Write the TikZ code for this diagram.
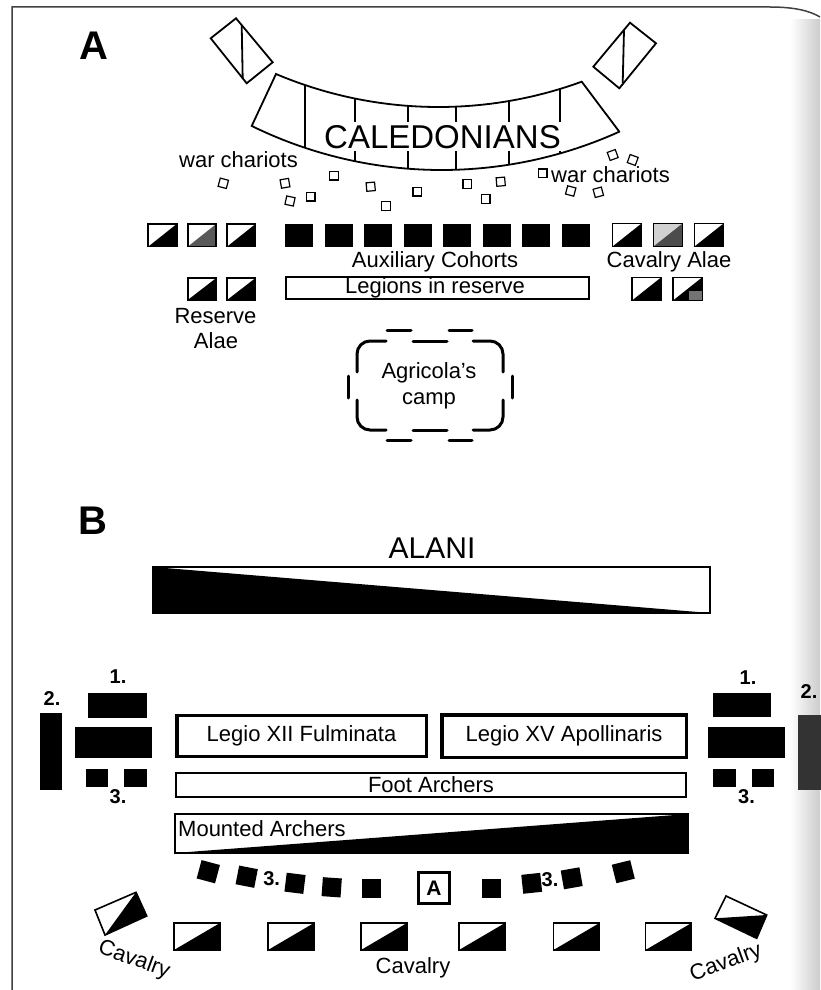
\documentclass[tikz,border=0pt]{standalone}
\usepackage{fontspec}
\setmainfont{Liberation Sans}
\newcommand{\alarect}[6]{%
  \fill[#6] (#1-#3/2,#2-#4/2) rectangle (#1+#3/2,#2+#4/2);
  \fill[#5] (#1-#3/2,#2+#4/2) -- (#1+#3/2,#2+#4/2) -- (#1+#3/2,#2-#4/2) -- cycle;
  \draw[unitline] (#1-#3/2,#2-#4/2) rectangle (#1+#3/2,#2+#4/2);}
\begin{document}
\begin{tikzpicture}[x=1pt,y=-1pt,
  unitline/.style={draw=black,line width=1.6pt},
  lbl/.style={font=\fontsize{22}{26}\selectfont,inner sep=0pt},
  num/.style={font=\bfseries\fontsize{20}{22}\selectfont,inner sep=0pt},
  big/.style={font=\bfseries\fontsize{40}{44}\selectfont,inner sep=0pt},
  chariot/.style={draw,line width=1.2pt,minimum size=8.5pt,inner sep=0pt},
  cohort/.style={fill=black,minimum width=28pt,minimum height=23pt,inner sep=0pt},
  legio/.style={draw,line width=3.5pt,inner sep=0pt,font=\fontsize{22}{26}\selectfont},
  smallsq/.style={fill=black,minimum size=19pt,inner sep=0pt},
  camp/.style={line width=3pt,line cap=round},
  band/.style={line width=1.8pt,line join=miter}]
\useasboundingbox (0,0) rectangle (820,990);
% page edge
\shade[left color=white,right color=black!20] (790,20) rectangle (820,990);
\draw[black!75,line width=1.5pt] (12,990) -- (12,7) -- (770,7) .. controls (795,7) and (810,11) .. (820,17);

% ================= PANEL A =================
\node[big] (labA) at (94,46) {A};

% standards at the top
\draw[band] (210.7,38.3) -- (236,18.3) -- (272.7,62.3) -- (246.7,83.3) -- cycle;
\draw[band] (241.7,25) -- (242.7,79);
\draw[band] (593.3,66.7) -- (630,22.7) -- (656,43.3) -- (619.3,88.3) -- cycle;
\draw[band] (624,30) -- (622.7,83.3);

% Caledonian band
\draw[band] plot[domain=276:581.7,samples=60] (\x,{-310.2+100*sqrt(17.4056-((\x-438.6)/100)^2)})
  -- (619.3,131.7)
  -- plot[domain=619.3:251.7,samples=60] (\x,{-261.5+100*sqrt(18.6192-((\x-441.6)/100)^2)})
  -- cycle;
\foreach \xx in {305,355,408,456,509,560}{
  \draw[band] (\xx,{-310.2+100*sqrt(17.4056-((\xx-438.6)/100)^2)}) -- (\xx,{-261.5+100*sqrt(18.6192-((\xx-441.6)/100)^2)});
}
\node[font=\fontsize{33}{36}\selectfont,fill=white,inner sep=2.5pt,anchor=base] (cal) at (442.5,148) {CALEDONIANS};

% war chariots
\node[lbl,anchor=base] (wcl) at (238.5,167) {war chariots};
\node[lbl,anchor=base] (wcr) at (610.5,182.7) {war chariots};
\foreach \cx/\cy/\ang [count=\i] in {223.3/183.3/-15, 285/183.3/10, 290/201/-12, 310.7/196.7/0,
   334/175.7/0, 370.7/186.7/5, 386/206/0, 417.3/191.7/0, 467.3/184/0, 485.7/199/0,
   500.7/181.7/5, 542.7/173.3/0, 612.7/155/20, 632.7/160/-20, 570.7/191/-15, 598.3/192.3/15}{
  \node[chariot,rotate=\ang] (ch\i) at (\cx,\cy) {};
}

% front line
\alarect{162.5}{235.3}{28.5}{22.7}{black}{white}
\alarect{202}{235.3}{28.5}{22.7}{black!65}{white}
\alarect{241.3}{235.3}{28.5}{22.7}{black}{white}
\foreach \cx [count=\i] in {299,338.5,378,417.5,457,496.5,536,575.5}{
  \node[cohort] (co\i) at (\cx,235.3) {};
}
\alarect{627}{235}{29}{23}{black}{white}
\alarect{668}{235}{29}{23}{black!70}{black!18}
\alarect{709}{235}{29}{23}{black}{white}
\node[lbl,anchor=base] (aux) at (435,267) {Auxiliary Cohorts};
\node[lbl,anchor=base] (cavA) at (669,267) {Cavalry Alae};

% second line
\alarect{202}{289}{28.5}{22}{black}{white}
\alarect{241.3}{289}{28.5}{22}{black}{white}
\node[draw,line width=1.6pt,minimum width=303pt,minimum height=22pt,inner sep=0pt] (legres) at (437.5,288) {};
\node[lbl,anchor=base] (legrestxt) at (435,293.5) {Legions in reserve};
\alarect{646.5}{289}{29}{23}{black}{white}
\alarect{687.5}{289}{29}{23}{black}{white}
\fill[black!55] (689,291) rectangle (701.5,300);
\node[lbl,anchor=base] (res1) at (215.5,323.5) {Reserve};
\node[lbl,anchor=base] (res2) at (216,348) {Alae};

% Agricola's camp
\draw[camp,rounded corners=13pt] (357,372) -- (357,341) -- (386,341);
\draw[camp] (413,341) -- (447,341);
\draw[camp,rounded corners=13pt] (473,341) -- (503,341) -- (503,372);
\draw[camp,rounded corners=13pt] (357,400) -- (357,430) -- (386,430);
\draw[camp] (413,430) -- (447,430);
\draw[camp,rounded corners=13pt] (473,430) -- (503,430) -- (503,400);
\draw[camp] (387,330) -- (411,330);
\draw[camp] (449,330) -- (472,330);
\draw[camp] (387,440) -- (411,440);
\draw[camp] (449,440) -- (472,440);
\draw[camp] (348.5,376) -- (348.5,398);
\draw[camp] (512.5,376) -- (512.5,398);
\node[lbl,anchor=base] (agr1) at (429,378) {Agricola's};
\node[lbl,anchor=base] (agr2) at (429,404) {camp};

% ================= PANEL B =================
\node[big] (labB) at (92.5,521) {B};
\node[font=\fontsize{30}{34}\selectfont,inner sep=0pt,anchor=base] (alani) at (432,558) {ALANI};
\fill[black] (153,567) -- (153,613) -- (710,613) -- cycle;
\draw[line width=1.5pt] (153,567) rectangle (710,613);

% left wing
\node[num] (l1) at (118,677) {1.};
\node[num] (l2) at (52,699) {2.};
\node[num] (l3) at (118,797) {3.};
\fill (40,713) rectangle (62.3,790);
\fill (88.3,693.3) rectangle (146.7,717.7);
\fill (75,727.3) rectangle (152.3,758.3);
\fill (86,769) rectangle (107.7,787.3);
\fill (124.3,769) rectangle (146.7,787.3);

% right wing
\node[num] (r1) at (748,678) {1.};
\node[num] (r2) at (809,692) {2.};
\node[num] (r3) at (746.5,797) {3.};
\fill (712.7,693.3) rectangle (771,717.3);
\fill (708.3,727.3) rectangle (785,758.3);
\fill (713.3,769.3) rectangle (735.7,787.3);
\fill (752.3,769.3) rectangle (774.3,787.3);
\fill[black!80] (798,715) rectangle (822,790);

% legions
\node[legio,minimum width=249.5pt,minimum height=41pt] (l12) at (301.5,736) {Legio XII Fulminata};
\node[legio,minimum width=244.5pt,minimum height=42.5pt] (l15) at (564,736) {Legio XV Apollinaris};
\node[draw,line width=2pt,minimum width=510pt,minimum height=24pt,inner sep=0pt,font=\fontsize{22}{26}\selectfont] (foot) at (431,785) {Foot Archers};

% mounted archers
\fill[black] (175,853) -- (688,853) -- (688,814) -- cycle;
\draw[line width=1.5pt] (175,814) rectangle (688,853);
\node[lbl,anchor=base west] (mnt) at (178,836.5) {Mounted Archers};

% small units and commander
\node[smallsq,rotate=-15] (s1) at (208.3,871.7) {};
\node[smallsq,rotate=-11] (s2) at (246.7,876.7) {};
\node[smallsq,rotate=-7] (s3) at (295,883.3) {};
\node[smallsq,rotate=-4] (s4) at (331.7,887.3) {};
\node[smallsq] (s5) at (371.7,888.3) {};
\node[smallsq] (s6) at (491.7,888.3) {};
\node[smallsq,rotate=6] (s7) at (531.7,883.3) {};
\node[smallsq,rotate=10] (s8) at (571.7,878.3) {};
\node[smallsq,rotate=14] (s9) at (623.3,871.7) {};
\node[num] (n3a) at (271.7,879) {3.};
\node[num] (n3b) at (550,880) {3.};
\node[draw,line width=3pt,minimum size=31pt,inner sep=0pt,font=\bfseries\fontsize{21}{24}\selectfont] (cmd) at (434,888) {A};

% cavalry
\fill[black] (136,892.3) -- (146.7,916) -- (105,935) -- cycle;
\draw[unitline,line join=miter] (95,910) -- (136,892.3) -- (146.7,916) -- (105,935) -- cycle;
\fill[black] (715,918.3) -- (766.7,915) -- (756.7,938.3) -- cycle;
\draw[unitline,line join=miter] (715,918.3) -- (726,896) -- (766.7,915) -- (756.7,938.3) -- cycle;
\foreach \cx in {197,291,384,482,576.5,668.5}{
  \alarect{\cx}{936.5}{46}{27}{black}{white}
}
\node[lbl,rotate=-20] (cavl) at (134,960) {Cavalry};
\node[lbl,rotate=20] (cavr) at (726,963) {Cavalry};
\node[lbl] (cavm) at (413,968) {Cavalry};
\end{tikzpicture}
\end{document}
